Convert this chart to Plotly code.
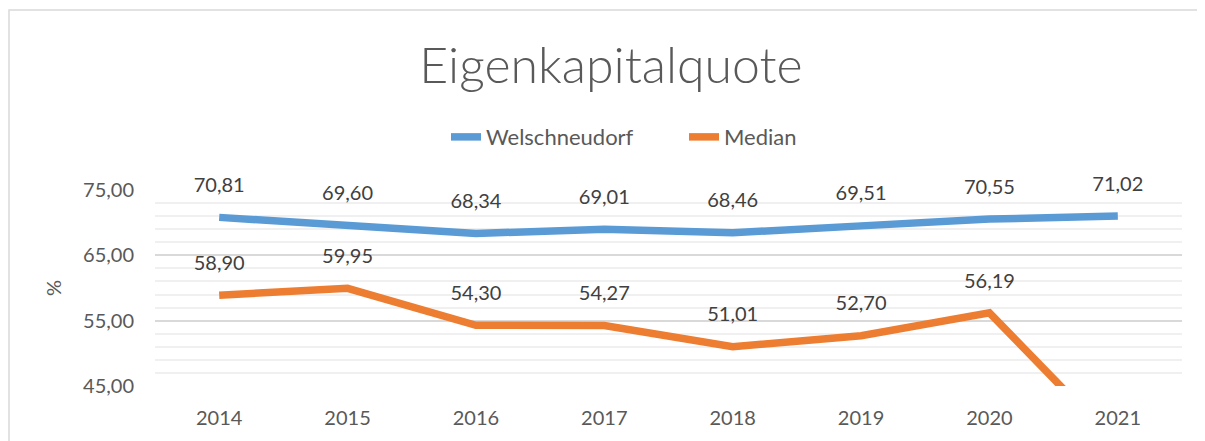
import plotly.graph_objects as go

years = ["2014", "2015", "2016", "2017", "2018", "2019", "2020", "2021"]
welschneudorf = [70.81, 69.60, 68.34, 69.01, 68.46, 69.51, 70.55, 71.02]
median = [58.90, 59.95, 54.30, 54.27, 51.01, 52.70, 56.19, 36.0]
y_ticks = [45, 55, 65, 75]
y_min, y_max = 45, 75

BLUE = "#5B9BD5"
ORANGE = "#ED7D31"
FONT = "Lato"

xs = list(range(len(years)))

def fmt(v):
    # Excel hides labels of points outside the axis range
    return f"{v:.2f}".replace(".", ",") if y_min <= v <= y_max else ""

fig = go.Figure()
for name, vals, col in [("Welschneudorf", welschneudorf, BLUE), ("Median", median, ORANGE)]:
    fig.add_trace(go.Scatter(
        x=xs, y=vals, name=name, mode="lines",
        line=dict(color=col, width=7.5),
        cliponaxis=True, hoverinfo="skip",
    ))
for vals in [welschneudorf, median]:
    fig.add_trace(go.Scatter(
        x=xs, y=vals, mode="markers+text", showlegend=False,
        text=[fmt(v) for v in vals], textposition="top center",
        textfont=dict(family=FONT, size=20, color="#404040"),
        marker=dict(size=31, color="rgba(0,0,0,0)"),
        cliponaxis=False, hoverinfo="skip",
    ))

W, H = 1197, 433  # page body margin of 8px offsets the figure
PL, PT, PW, PH = 147, 182, 1027, 196
fig.update_layout(
    width=W, height=H,
    margin=dict(l=PL, r=W - PL - PW, t=PT, b=H - PT - PH),
    paper_bgcolor="white", plot_bgcolor="white",
    font=dict(family=FONT, color="#595959"),
    title=dict(text="Eigenkapitalquote", x=(611 - 8) / W, xanchor="center",
               yref="container", y=1 - 57 / H, yanchor="middle",
               font=dict(family=FONT, size=50, color="#595959", weight=300)),
    legend=dict(orientation="h", x=(446 - 8 - PL) / PW, xanchor="left", y=1.27, yanchor="middle",
                font=dict(family=FONT, size=22, color="#595959"),
                bgcolor="rgba(0,0,0,0)", entrywidth=193, entrywidthmode="pixels"),
    separators=",.",
    showlegend=True,
)
fig.update_xaxes(
    range=[-0.5, len(years) - 0.5], tickvals=xs, ticktext=years,
    showgrid=False, zeroline=False, showline=False, ticks="",
    ticklabelstandoff=18,
    tickfont=dict(family=FONT, size=20, color="#595959"),
)
fig.update_yaxes(
    range=[y_min, y_max], tickvals=y_ticks, tickformat=".2f",
    showgrid=True, gridcolor="#D9D9D9", gridwidth=1.5,
    minor=dict(dtick=2, tick0=45, showgrid=True, gridcolor="#F0F0F0", gridwidth=1.5),
    zeroline=False, showline=False, ticks="",
    ticklabelstandoff=20,
    tickfont=dict(family=FONT, size=20, color="#595959"),
    title=dict(text="%", standoff=16, font=dict(family=FONT, size=20, color="#595959")),
)
# chart-area border (cropped Excel frame)
fig.add_shape(type="rect", xref="paper", yref="paper",
              x0=(-PL + 1) / PW, x1=1.2, y0=-0.6, y1=(PH + PT - 2) / PH,
              line=dict(color="#D9D9D9", width=1.5), layer="below")

fig.write_html("out.html")
